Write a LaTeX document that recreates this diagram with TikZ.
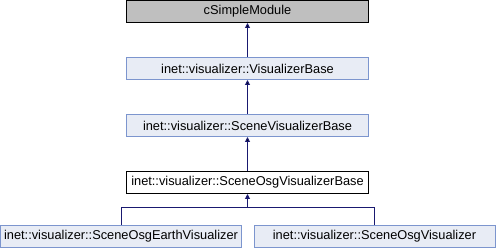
\documentclass[tikz,border=0pt]{standalone}
\usepackage{fontspec}
\setmainfont{Liberation Sans}
\usetikzlibrary{arrows.meta,positioning}

\definecolor{classfill}{HTML}{E8ECF5}
\definecolor{classline}{HTML}{7C95CE}
\definecolor{basefill}{HTML}{BFBFBF}
\definecolor{inhline}{HTML}{191970}

\begin{document}
\begin{tikzpicture}[x=1pt,y=-1pt,>={Triangle[length=5pt,width=5pt]},node distance=34pt,
                    class node/.style={rectangle,draw=classline,fill=classfill,line width=1pt,
                      minimum width=242pt,minimum height=22pt,inner sep=0pt,
                      font=\fontsize{12.8}{14}\selectfont},
                    base node/.style={class node,draw=black,fill=basefill},
                    this node/.style={class node,draw=black,fill=white},
                    inh/.style={->,draw=inhline,line width=1pt}]
  \useasboundingbox (0,0) rectangle (496,248);
  \node[base node] (0) at (247.5,11.5) {cSimpleModule};
  \node[class node] (1) [below=of 0] {inet::visualizer::VisualizerBase};
  \node[class node] (2) [below=of 1] {inet::visualizer::SceneVisualizerBase};
  \node[this node] (3) [below=of 2] {inet::visualizer::SceneOsgVisualizerBase};
  \node[class node,minimum width=241pt] (4) at (121,236.5) {inet::visualizer::SceneOsgEarthVisualizer};
  \node[class node,minimum width=241pt] (5) at (374.5,236.5) {inet::visualizer::SceneOsgVisualizer};
  \coordinate (fork) at (247.5,208);
  \path[inh]
    (1) edge (0)
    (2) edge (1)
    (3) edge (2);
  \draw[inh] (4) |- (fork) -- (3);
  \draw[inh,-] (5) |- (fork);
\end{tikzpicture}
\end{document}
